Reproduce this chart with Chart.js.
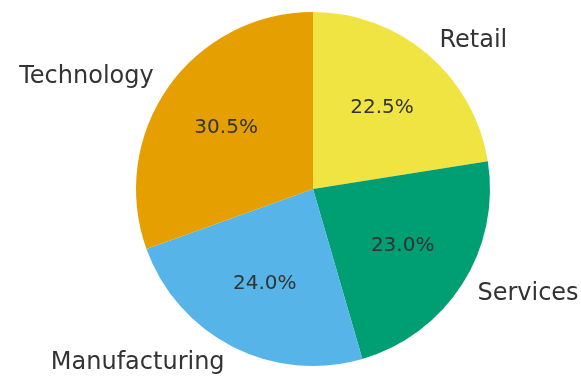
<!DOCTYPE html>
<html>
<head>
<meta charset="utf-8">
<script src="https://cdn.jsdelivr.net/npm/chart.js@4/dist/chart.umd.min.js"></script>
<style>
  html, body { margin: 0; padding: 0; background: #fff; }
  #wrap { width: 581px; height: 377px; }
</style>
</head>
<body>
<div id="wrap"><canvas id="pieChart"></canvas></div>
<script>
const sectors = ["Retail", "Services", "Manufacturing", "Technology"];
const shares = [22.5, 23.0, 24.0, 30.5];
const sectorColors = ["#F0E442", "#009E73", "#56B4E9", "#E69F00"];

// sector names outside the pie, percentages inside
const sliceLabels = {
    id: "sliceLabels",
    afterDatasetsDraw(chart) {
        const ctx = chart.ctx;
        const arcs = chart.getDatasetMeta(0).data;
        const total = shares.reduce((a, b) => a + b, 0);
        ctx.save();
        ctx.fillStyle = "#333333";
        ctx.textBaseline = "middle";
        arcs.forEach((arc, i) => {
            const mid = (arc.startAngle + arc.endAngle) / 2;
            const r = arc.outerRadius;
            const cx = Math.cos(mid), cy = Math.sin(mid);

            ctx.font = "20px 'DejaVu Sans'";
            ctx.textAlign = "center";
            const pct = (shares[i] / total * 100).toFixed(1) + "%";
            ctx.fillText(pct, arc.x + cx * r * 0.6, arc.y + cy * r * 0.6);

            ctx.font = "24px 'DejaVu Sans'";
            ctx.textAlign = cx >= 0 ? "left" : "right";
            ctx.fillText(sectors[i], arc.x + cx * r * 1.1, arc.y + cy * r * 1.1);
        });
        ctx.restore();
    }
};

new Chart(document.getElementById("pieChart"), {
    type: "pie",
    data: {
        labels: sectors,
        datasets: [{
            data: shares,
            backgroundColor: sectorColors,
            borderWidth: 0,
            hoverOffset: 0
        }]
    },
    options: {
        responsive: true,
        maintainAspectRatio: false,
        animation: false,
        layout: { padding: { left: 136, right: 91, top: 12, bottom: 11 } },
        plugins: {
            legend: { display: false },
            tooltip: { enabled: false }
        }
    },
    plugins: [sliceLabels]
});
</script>
</body>
</html>
